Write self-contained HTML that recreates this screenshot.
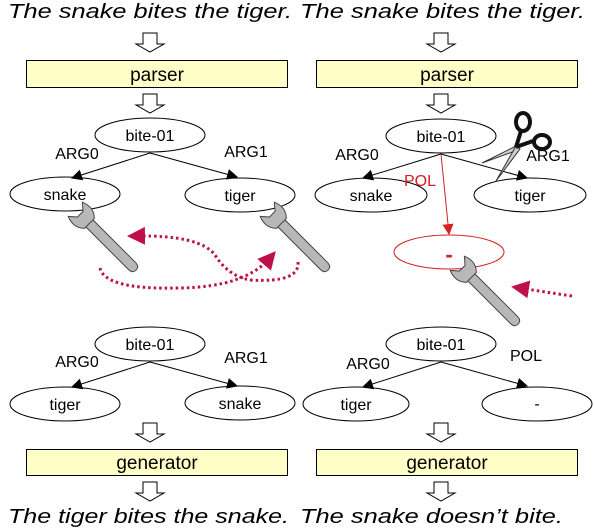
<!DOCTYPE html>
<html><head><meta charset="utf-8"><style>
html,body{margin:0;padding:0;background:#fff}
svg{display:block}
text{font-family:"Liberation Sans",sans-serif}
</style></head><body>
<svg width="594" height="529" viewBox="0 0 594 529" xmlns="http://www.w3.org/2000/svg">
<defs>
<marker id="ab" viewBox="0 0 10 10" refX="9" refY="5" markerWidth="13" markerHeight="11" orient="auto" markerUnits="userSpaceOnUse"><path d="M0,0 L10,5 L0,10 z" fill="#000"/></marker>
<marker id="ar" viewBox="0 0 10 10" refX="9" refY="5" markerWidth="13" markerHeight="11" orient="auto" markerUnits="userSpaceOnUse"><path d="M0,0 L10,5 L0,10 z" fill="#d42020"/></marker>
<marker id="am" viewBox="0 0 10 10" refX="5" refY="5" markerWidth="18" markerHeight="18" orient="auto" markerUnits="userSpaceOnUse"><path d="M0,0 L10,5 L0,10 z" fill="#c0104a"/></marker>
<g id="harr"><path d="M-7,0 V11 H-14 L0,19 L14,11 H7 V0 Z" fill="#fff" stroke="#000" stroke-width="1"/></g>
<g id="wrench">
 <path d="M-5,0 L5,0 L5,62 Q5,68 0,68 Q-5,68 -5,62 Z" fill="#b8b8b8" stroke="#444" stroke-width="1"/>
 <path d="M-10,-18 L-4,-11 L4,-11 L10,-18 Q15,-6 7,2 L-7,2 Q-15,-6 -10,-18 Z" fill="#b8b8b8" stroke="#444" stroke-width="1"/>
</g>
</defs>

<g font-size="20" font-style="italic" fill="#000">
<text x="8" y="18" textLength="284" lengthAdjust="spacingAndGlyphs">The snake bites the tiger.</text>
<text x="300" y="18" textLength="285" lengthAdjust="spacingAndGlyphs">The snake bites the tiger.</text>
<text x="8" y="523" textLength="281" lengthAdjust="spacingAndGlyphs">The tiger bites the snake.</text>
<text x="300" y="523" textLength="263" lengthAdjust="spacingAndGlyphs">The snake doesn’t bite.</text>
</g>

<use href="#harr" x="150" y="33"/><use href="#harr" x="441" y="33"/>
<use href="#harr" x="150" y="94"/><use href="#harr" x="441" y="94"/>
<use href="#harr" x="150" y="423"/><use href="#harr" x="441" y="423"/>
<use href="#harr" x="150" y="482"/><use href="#harr" x="441" y="482"/>

<g fill="#ffffc8" stroke="#000" stroke-width="1">
<rect x="26.5" y="60.5" width="261" height="27"/>
<rect x="316.5" y="60.5" width="261" height="27"/>
<rect x="26.5" y="449.5" width="261" height="26"/>
<rect x="316.5" y="449.5" width="261" height="26"/>
</g>
<g font-size="19" text-anchor="middle">
<text x="157" y="81">parser</text><text x="447" y="81">parser</text>
<text x="157" y="469">generator</text><text x="447" y="469">generator</text>
</g>

<g fill="#fff" stroke="#000" stroke-width="1">
<ellipse cx="150" cy="135" rx="55" ry="17"/>
<ellipse cx="65" cy="194" rx="55" ry="17"/>
<ellipse cx="240" cy="195" rx="55" ry="17"/>
<ellipse cx="441" cy="136" rx="55" ry="17"/>
<ellipse cx="371" cy="195" rx="56" ry="17"/>
<ellipse cx="530" cy="195" rx="56" ry="17"/>
<ellipse cx="150" cy="344" rx="55" ry="17"/>
<ellipse cx="65" cy="404" rx="55" ry="17"/>
<ellipse cx="240" cy="403" rx="55" ry="17"/>
<ellipse cx="441" cy="344" rx="55" ry="17"/>
<ellipse cx="356" cy="404" rx="53" ry="17"/>
<ellipse cx="537" cy="404" rx="55" ry="17"/>
</g>
<ellipse cx="449" cy="252" rx="55" ry="17" fill="none" stroke="#d42020" stroke-width="1"/>

<g stroke="#000" stroke-width="1" marker-end="url(#ab)">
<line x1="150" y1="153" x2="72" y2="178"/>
<line x1="150" y1="153" x2="237" y2="177"/>
<line x1="441" y1="154" x2="363" y2="178"/>
<line x1="441" y1="154" x2="527" y2="178"/>
<line x1="150" y1="362" x2="72" y2="387"/>
<line x1="150" y1="362" x2="237" y2="386"/>
<line x1="441" y1="362" x2="363" y2="387"/>
<line x1="441" y1="362" x2="527" y2="386"/>
</g>
<line x1="441" y1="154" x2="449" y2="234" stroke="#d42020" stroke-width="1" marker-end="url(#ar)"/>

<g font-size="16" text-anchor="middle">
<text x="65" y="200">snake</text><text x="240" y="201">tiger</text>
<text x="150" y="141">bite-01</text><text x="441" y="142">bite-01</text>
<text x="371" y="201">snake</text><text x="530" y="201">tiger</text>
<text x="150" y="350">bite-01</text><text x="441" y="350">bite-01</text>
<text x="65" y="410">tiger</text><text x="240" y="409">snake</text>
<text x="356" y="410">tiger</text><text x="537" y="409">-</text>
<text x="77" y="159">ARG0</text><text x="246" y="157">ARG1</text>
<text x="357" y="160">ARG0</text><text x="548" y="161">ARG1</text>
<text x="77" y="367">ARG0</text><text x="246" y="363">ARG1</text>
<text x="368" y="369">ARG0</text><text x="526" y="361">POL</text>
<text x="420" y="186" fill="#d42020">POL</text>
<text x="449" y="262" fill="#d42020" font-size="22" font-weight="bold">-</text>
</g>

<!-- wrenches -->
<use href="#wrench" transform="translate(88,222) rotate(-45)"/>
<use href="#wrench" transform="translate(280,222) rotate(-45)"/>
<use href="#wrench" transform="translate(470,276) rotate(-45)"/>

<!-- scissors -->
<g stroke="#333" stroke-width="1">
<path d="M516,146 L482,163 L518,150 Z" fill="#ccc"/>
<path d="M516,146 L496,181 L520,149 Z" fill="#ccc"/>
</g>
<line x1="516" y1="147" x2="521" y2="131" stroke="#111" stroke-width="4"/>
<line x1="516" y1="147" x2="533" y2="141" stroke="#111" stroke-width="4"/>
<ellipse cx="523" cy="122" rx="7" ry="9" fill="#fff" stroke="#111" stroke-width="4"/>
<ellipse cx="542" cy="142" rx="8" ry="7" fill="#fff" stroke="#111" stroke-width="4"/>

<!-- dotted arrows -->
<g fill="none" stroke="#c0104a" stroke-width="3" stroke-dasharray="2.5,3">
<path d="M100,268 Q105,290 180,288 Q245,287 270,258" marker-end="url(#am)"/>
<path d="M298,262 Q300,283 250,280 Q228,276 215,255 Q200,235 136,236" marker-end="url(#am)"/>
<path d="M572,296 Q545,292 520,288" marker-end="url(#am)"/>
</g>
</svg>
</body></html>
